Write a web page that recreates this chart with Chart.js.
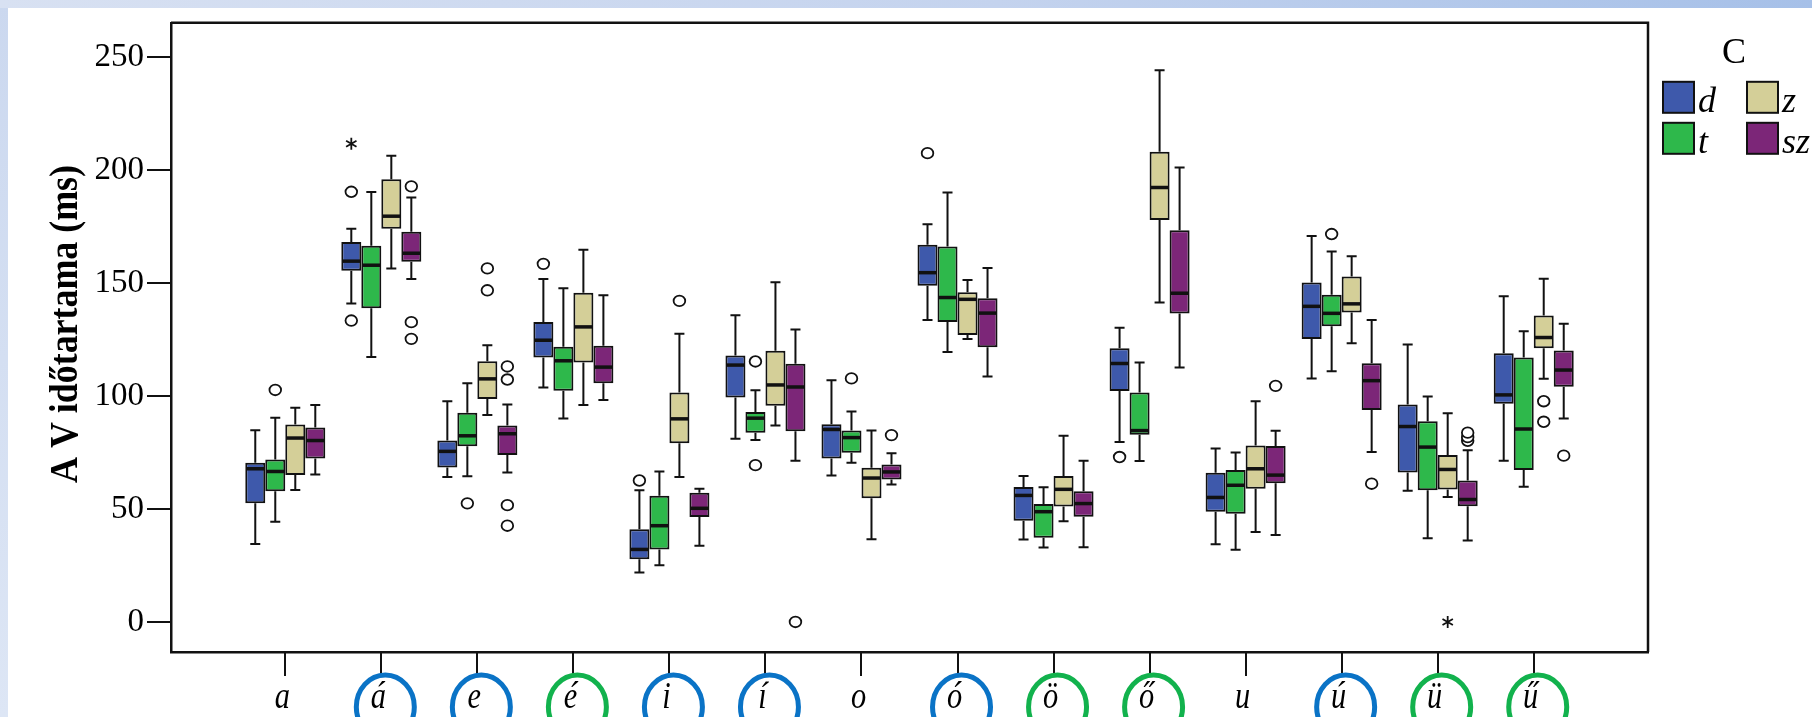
<!DOCTYPE html>
<html>
<head>
<meta charset="utf-8">
<script src="https://cdn.jsdelivr.net/npm/chart.js@4/dist/chart.umd.min.js"></script>
<style>
  html, body { margin: 0; padding: 0; width: 1812px; height: 717px; overflow: hidden; }
  body { position: relative; background: linear-gradient(to bottom, #cbd8ef, #dde6f5); }
  #band { position: absolute; left: 0; top: 0; width: 1812px; height: 8px;
          background: linear-gradient(to right, #d8e1f2, #c4d3ee 55%, #a6c0e8); }
  #sheet { position: absolute; left: 8px; top: 8px; right: 0; bottom: 0; background: #ffffff; }
  canvas { position: absolute; left: 0; top: 0; }
</style>
</head>
<body>
<div id="band"></div>
<div id="sheet"></div>
<canvas id="chart" width="1812" height="717"></canvas>
<script>
// Vowel categories along the x axis
const vowels = ['a', 'á', 'e', 'é', 'i', 'í', 'o', 'ó', 'ö', 'ő', 'u', 'ú', 'ü', 'ű'];
// Ring drawn round a vowel label: 'b' = blue ring, 'g' = green ring, '' = none
const vowelRing = ['', 'b', 'b', 'g', 'b', 'b', '', 'b', 'g', 'g', '', 'b', 'g', 'g'];
// Following consonant (legend "C")
const consonants = ['d', 't', 'z', 'sz'];
const yTicks = [0, 50, 100, 150, 200, 250];
const yTitle = 'A V időtartama (ms)';
const legendTitle = 'C';

// Per vowel: [lower whisker, Q1, median, Q3, upper whisker] in ms
const dStats = [
  [34.5, 52.5, 67.8, 70.5, 84.9], [141.0, 155.4, 159.7, 168.2, 174.0], [64.2, 68.4, 75.5, 80.3, 97.7],
  [103.8, 117.1, 124.7, 132.8, 151.8], [21.9, 27.7, 32.1, 41.0, 58.3], [81.1, 99.3, 113.7, 117.9, 135.8],
  [64.8, 72.4, 85.2, 87.5, 107.0], [133.6, 148.8, 154.6, 167.0, 176.0], [36.5, 44.8, 56.0, 59.7, 64.6],
  [79.7, 102.2, 114.4, 121.1, 130.2], [34.4, 48.8, 55.1, 66.0, 76.8], [107.8, 125.2, 139.7, 150.2, 170.8],
  [58.1, 66.1, 86.5, 96.3, 122.8], [71.3, 96.6, 100.5, 118.9, 144.2]
];
const tStats = [
  [44.3, 57.9, 66.6, 71.9, 90.4], [117.3, 138.8, 157.9, 166.5, 190.3], [64.5, 77.8, 82.4, 92.6, 105.7],
  [90.1, 102.3, 115.6, 121.8, 147.7], [25.1, 32.1, 42.6, 55.9, 66.6], [80.5, 83.8, 90.2, 92.9, 102.6],
  [70.5, 74.9, 81.6, 84.7, 93.2], [119.5, 132.8, 143.6, 166.2, 190.1], [33.0, 37.3, 48.8, 52.2, 59.6],
  [71.2, 82.9, 84.7, 101.6, 114.8], [32.0, 47.9, 60.5, 67.3, 75.0], [111.0, 130.9, 136.6, 144.8, 164.0],
  [37.1, 58.3, 77.4, 88.8, 99.8], [59.8, 67.3, 85.4, 117.1, 128.7]
];
const zStats = [
  [58.4, 65.0, 81.4, 87.4, 94.8], [156.5, 174.0, 179.6, 195.9, 206.3], [91.6, 98.7, 107.6, 115.4, 122.5],
  [96.0, 114.8, 130.6, 145.7, 164.8], [64.2, 79.1, 89.9, 101.6, 127.6], [86.9, 95.7, 104.9, 120.0, 150.4],
  [36.6, 54.8, 63.7, 68.3, 84.7], [125.2, 127.0, 142.8, 145.9, 151.4], [44.6, 51.1, 58.7, 64.6, 82.4],
  [141.4, 177.9, 192.3, 208.1, 244.2], [39.8, 59.0, 67.8, 78.1, 97.7], [123.4, 137.0, 140.8, 152.9, 161.9],
  [55.3, 58.6, 67.5, 73.9, 92.4], [107.6, 121.1, 125.9, 135.6, 151.9]
];
const szStats = [
  [65.3, 72.4, 80.3, 86.1, 96.0], [151.8, 159.4, 163.2, 172.7, 187.9], [66.1, 73.9, 83.3, 86.9, 96.2],
  [98.2, 105.7, 112.8, 122.2, 144.6], [33.7, 46.5, 50.3, 57.2, 59.0], [71.3, 84.4, 104.0, 114.3, 129.4],
  [60.8, 63.0, 66.4, 69.7, 74.7], [108.6, 121.6, 136.7, 143.3, 156.7], [33.1, 46.6, 52.4, 57.8, 71.4],
  [112.6, 136.5, 145.5, 173.4, 201.1], [38.5, 61.4, 65.0, 77.9, 84.6], [75.2, 93.8, 106.8, 114.5, 133.6],
  [36.0, 51.2, 54.2, 62.6, 76.0], [90.1, 104.1, 111.5, 120.1, 132.0]
];

// Outliers (circles) per vowel
const dOutliers  = [[], [190.4, 133.4], [], [158.5], [62.6], [], [], [207.5], [], [73.0], [], [], [], []];
const tOutliers  = [[102.7], [], [52.5], [], [], [115.3, 69.4], [107.8], [], [], [], [], [171.7], [], []];
const zOutliers  = [[], [], [156.5, 146.8], [], [142.1], [], [], [], [], [], [], [], [], [97.7, 88.6]];
const szOutliers = [[], [192.8, 132.7, 125.3], [113.1, 107.3, 51.7, 42.6], [], [], [0], [82.7], [], [], [], [104.5], [61.2], [80.2, 81.8, 83.8], [73.6]];

// Extreme values (asterisks) per vowel
const dExtremes  = [[], [211.7], [], [], [], [], [], [], [], [], [], [], [], []];
const tExtremes  = [[], [], [], [], [], [], [], [], [], [], [], [], [], []];
const zExtremes  = [[], [], [], [], [], [], [], [], [], [], [], [], [0], []];
const szExtremes = [[], [], [], [], [], [], [], [], [], [], [], [], [], []];

const seriesColours = ['#3e59ab', '#2eb84b', '#d4cf98', '#7c2678'];
const ringColours = { b: '#0a73c6', g: '#12b24d' };
const ink = '#111111';

const seriesStats = [dStats, tStats, zStats, szStats];
const seriesOutliers = [dOutliers, tOutliers, zOutliers, szOutliers];
const seriesExtremes = [dExtremes, tExtremes, zExtremes, szExtremes];

const datasets = consonants.map((c, s) => ({
  label: c,
  data: seriesStats[s].map((st, i) => ({ x: i, y: [st[1], st[3]] })),
  backgroundColor: seriesColours[s],
  borderColor: ink,
  borderWidth: 2,
  borderSkipped: false,
  categoryPercentage: 80 / 96,
  barPercentage: 1.0
}));

function barGeom(chart, s, i) {
  const el = chart.getDatasetMeta(s).data[i];
  return el.getProps(['x', 'width'], true);
}

// Whiskers, medians, outliers and extremes on top of the Q1–Q3 bars
const boxplotMarks = {
  id: 'boxplotMarks',
  beforeDatasetsDraw(chart) {
    const ctx = chart.ctx, y = chart.scales.y;
    ctx.save();
    ctx.strokeStyle = ink;
    ctx.lineWidth = 2;
    seriesStats.forEach((stats, s) => {
      stats.forEach((st, i) => {
        const { x, width } = barGeom(chart, s, i);
        const cap = width / 4;
        const yLo = y.getPixelForValue(st[0]), yQ1 = y.getPixelForValue(st[1]);
        const yQ3 = y.getPixelForValue(st[3]), yHi = y.getPixelForValue(st[4]);
        ctx.beginPath();
        ctx.moveTo(x, yQ1); ctx.lineTo(x, yLo);
        ctx.moveTo(x - cap, yLo); ctx.lineTo(x + cap, yLo);
        ctx.moveTo(x, yQ3); ctx.lineTo(x, yHi);
        ctx.moveTo(x - cap, yHi); ctx.lineTo(x + cap, yHi);
        ctx.stroke();
      });
    });
    ctx.restore();
  },
  afterDatasetsDraw(chart) {
    const ctx = chart.ctx, y = chart.scales.y;
    ctx.save();
    seriesStats.forEach((stats, s) => {
      stats.forEach((st, i) => {
        const { x, width } = barGeom(chart, s, i);
        // median
        const yMed = y.getPixelForValue(st[2]);
        ctx.strokeStyle = ink;
        ctx.lineWidth = 3.5;
        ctx.beginPath();
        ctx.moveTo(x - width / 2 + 1, yMed); ctx.lineTo(x + width / 2 - 1, yMed);
        ctx.stroke();
        // outliers
        ctx.lineWidth = 1.8;
        seriesOutliers[s][i].forEach(v => {
          const py = y.getPixelForValue(v);
          ctx.beginPath();
          ctx.ellipse(x, py, 5.8, 5.3, 0, 0, Math.PI * 2);
          ctx.fillStyle = '#ffffff';
          ctx.fill();
          ctx.stroke();
        });
        // extremes
        ctx.lineWidth = 1.8;
        seriesExtremes[s][i].forEach(v => {
          const py = y.getPixelForValue(v);
          ctx.beginPath();
          for (let k = 0; k < 3; k++) {
            const a = Math.PI / 2 + k * Math.PI / 3;
            ctx.moveTo(x - Math.cos(a) * 6, py - Math.sin(a) * 6);
            ctx.lineTo(x + Math.cos(a) * 6, py + Math.sin(a) * 6);
          }
          ctx.stroke();
        });
      });
    });
    ctx.restore();
  },
  afterDraw(chart) {
    const ctx = chart.ctx, area = chart.chartArea, xs = chart.scales.x;
    ctx.save();
    // top and right edges of the frame
    ctx.strokeStyle = ink;
    ctx.lineWidth = 2.5;
    ctx.beginPath();
    ctx.moveTo(area.left, area.top); ctx.lineTo(area.right, area.top); ctx.lineTo(area.right, area.bottom);
    ctx.stroke();

    // category tick marks below the x axis
    ctx.fillStyle = ink;
    for (let i = 0; i < vowels.length; i++) {
      const px = Math.round(xs.getPixelForValue(i));
      ctx.fillRect(px - 1, Math.round(area.bottom), 2, 24);
    }

    // vowel labels with rings
    vowels.forEach((v, i) => {
      const px = xs.getPixelForValue(i);
      if (vowelRing[i]) {
        ctx.strokeStyle = ringColours[vowelRing[i]];
        ctx.lineWidth = 5;
        ctx.beginPath();
        ctx.ellipse(px + 4, area.bottom + 55, 29, 32, 0, 0, Math.PI * 2);
        ctx.stroke();
      }
      ctx.save();
      ctx.translate(px - 3, area.bottom + 56);
      ctx.scale(0.8, 1);
      ctx.fillStyle = '#000';
      ctx.font = 'italic 38px "Liberation Serif"';
      ctx.textAlign = 'center';
      ctx.textBaseline = 'alphabetic';
      ctx.fillText(v, 0, 0);
      ctx.restore();
    });

    // y axis title, rotated
    ctx.save();
    ctx.font = 'bold 40px "Liberation Serif"';
    const tw = ctx.measureText(yTitle).width;
    ctx.translate(77, 324);
    ctx.rotate(-Math.PI / 2);
    ctx.scale(318 / tw, 1);
    ctx.fillStyle = '#000';
    ctx.textAlign = 'center';
    ctx.textBaseline = 'alphabetic';
    ctx.fillText(yTitle, 0, 0);
    ctx.restore();

    // legend: title and 2 x 2 grid of swatches
    ctx.fillStyle = '#000';
    ctx.font = '36px "Liberation Serif"';
    ctx.textAlign = 'center';
    ctx.textBaseline = 'alphabetic';
    ctx.fillText(legendTitle, area.right + 86, area.top + 40);
    consonants.forEach((c, s) => {
      const col = Math.floor(s / 2), row = s % 2;
      const bx = area.right + 15 + col * 84;
      const by = area.top + 59 + row * 41;
      ctx.fillStyle = seriesColours[s];
      ctx.fillRect(bx, by, 31, 31);
      ctx.strokeStyle = ink;
      ctx.lineWidth = 2;
      ctx.strokeRect(bx, by, 31, 31);
      ctx.fillStyle = '#000';
      ctx.font = 'italic 36px "Liberation Serif"';
      ctx.textAlign = 'left';
      ctx.fillText(c, bx + 35, by + 30);
    });
    ctx.restore();
  }
};

new Chart(document.getElementById('chart'), {
  type: 'bar',
  data: { datasets },
  options: {
    responsive: false,
    devicePixelRatio: 1,
    animation: false,
    layout: { padding: { top: 19, right: 164, bottom: 0, left: 0 } },
    plugins: { legend: { display: false }, title: { display: false }, tooltip: { enabled: false } },
    scales: {
      x: {
        type: 'linear',
        min: -1.19,
        max: 14.19,
        offset: false,
        afterFit(scale) { scale.height = 65; },
        afterBuildTicks(scale) {
          scale.ticks = vowels.map((v, i) => ({ value: i }));
        },
        ticks: { display: false, stepSize: 1 },
        grid: { display: false },
        border: { display: true, color: ink, width: 2.5 }
      },
      y: {
        type: 'linear',
        min: -13.3,
        max: 265.2,
        afterFit(scale) { scale.width = 171; },
        afterBuildTicks(scale) {
          scale.ticks = yTicks.map(v => ({ value: v }));
        },
        ticks: {
          color: '#000',
          padding: 3,
          font: { family: '"Liberation Serif"', size: 33 }
        },
        grid: { drawOnChartArea: false, drawTicks: true, tickLength: 24, color: ink, lineWidth: 2 },
        border: { display: true, color: ink, width: 2.5 }
      }
    }
  },
  plugins: [boxplotMarks]
});
</script>
</body>
</html>
